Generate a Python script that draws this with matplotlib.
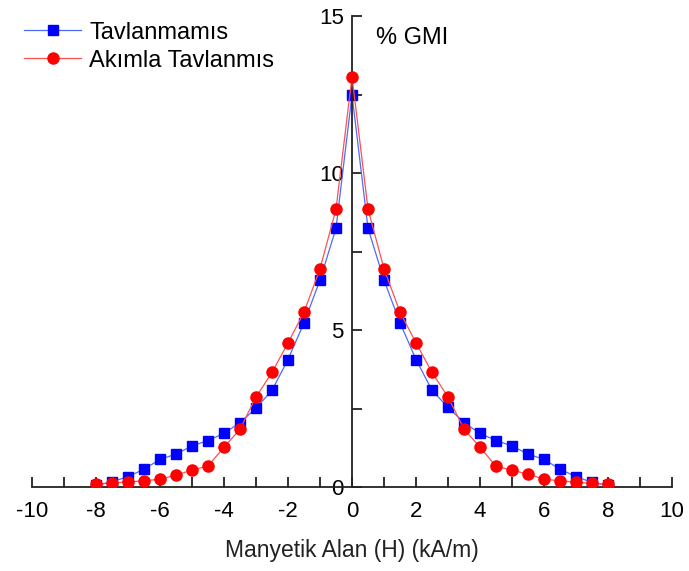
import matplotlib.pyplot as plt
from matplotlib.ticker import MultipleLocator

plt.rcParams['font.family'] = ['Liberation Sans', 'DejaVu Sans']
plt.rcParams['axes.unicode_minus'] = False

# Manyetik alan (kA/m)
field = [-8, -7.5, -7, -6.5, -6, -5.5, -5, -4.5, -4, -3.5, -3, -2.5, -2, -1.5, -1, -0.5,
         0, 0.5, 1, 1.5, 2, 2.5, 3, 3.5, 4, 4.5, 5, 5.5, 6, 6.5, 7, 7.5, 8]

# % GMI values
untreated = [0.05, 0.17, 0.33, 0.57, 0.88, 1.05, 1.31, 1.48, 1.71, 2.05, 2.51, 3.08, 4.06, 5.23, 6.59, 8.24,
             12.49, 8.24, 6.59, 5.23, 4.06, 3.08, 2.54, 2.05, 1.71, 1.48, 1.31, 1.05, 0.88, 0.57, 0.33, 0.15, 0.05]
annealed = [0.09, 0.14, 0.16, 0.20, 0.25, 0.38, 0.54, 0.67, 1.27, 1.84, 2.87, 3.65, 4.59, 5.57, 6.95, 8.85,
            13.07, 8.85, 6.95, 5.57, 4.59, 3.65, 2.87, 1.84, 1.27, 0.66, 0.54, 0.41, 0.25, 0.20, 0.15, 0.12, 0.09]

fig = plt.figure(figsize=(6.89, 5.71), dpi=100)
ax = fig.add_axes([0.0464, 0.147, 0.929, 0.825])

ax.plot(field, untreated, color='#4d6bff', lw=0.9, marker='s', ms=6.5,
        mfc='#0000ff', mec='#0000ff', label='Tavlanmamıs', zorder=2)
ax.plot(field, annealed, color='#ff5050', lw=0.9, marker='o', ms=8,
        mfc='#ff0000', mec='#ff0000', label='Akımla Tavlanmıs', zorder=3)

ax.set_xlim(-10, 10)
ax.set_ylim(0, 15)

# centered y axis, x axis on y=0
ax.spines['left'].set_position(('data', 0))
ax.spines['right'].set_visible(False)
ax.spines['top'].set_visible(False)
for s in ('left', 'bottom'):
    ax.spines[s].set_linewidth(1.3)
    ax.spines[s].set_color('#222222')

ax.xaxis.set_major_locator(MultipleLocator(2))
ax.xaxis.set_minor_locator(MultipleLocator(1))
ax.yaxis.set_major_locator(MultipleLocator(5))
ax.yaxis.set_minor_locator(MultipleLocator(2.5))
ax.tick_params(axis='both', which='both', direction='in', length=7, width=1.3,
               color='#222222', labelsize=16)
ax.tick_params(axis='x', which='major', pad=10)
ax.tick_params(axis='y', which='major', pad=6)

ax.set_xlabel('Manyetik Alan (H) (kA/m)', fontsize=16.5, color='#222222', labelpad=12)
ax.text(0.75, 14.3, '% GMI', fontsize=17, va='center', ha='left')

leg = ax.legend(loc='upper left', bbox_to_anchor=(-0.045, 1.033), frameon=False,
                fontsize=17, handlelength=2.4, handletextpad=0.35, labelspacing=0.25)

fig.savefig('out.png', dpi=100)
